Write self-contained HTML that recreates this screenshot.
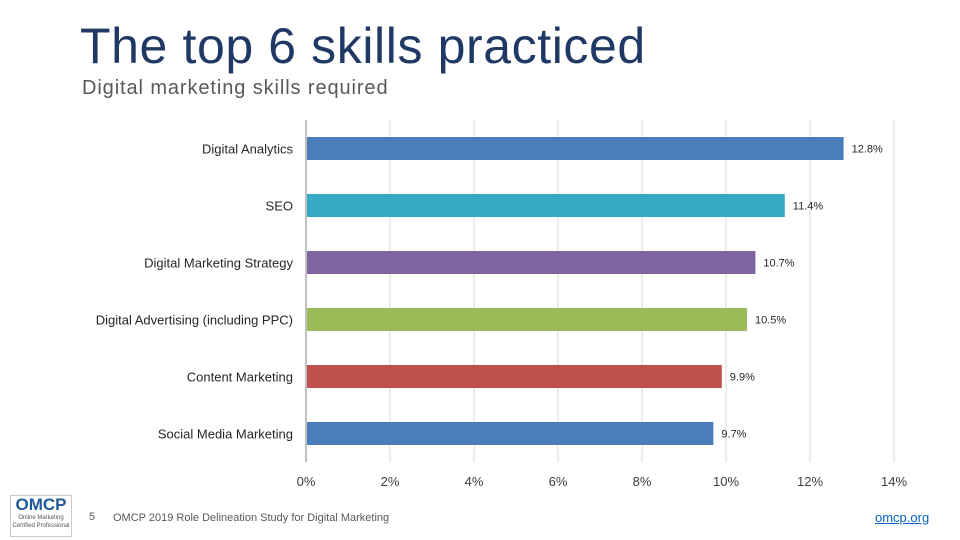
<!DOCTYPE html>
<html><head><meta charset="utf-8"><style>
body{margin:0;background:#fff;font-family:"Liberation Sans",sans-serif}
#wrap{position:relative;width:960px;height:540px;overflow:hidden}
</style></head><body>
<div id="wrap">
<div style="position:absolute;left:80px;top:17px;font-size:50px;color:#1f3864;letter-spacing:0.6px">The top 6 skills practiced</div>
<div style="position:absolute;left:82px;top:77px;font-size:20px;color:#595959;letter-spacing:0.9px">Digital  marketing skills required</div>
<svg id="chart" width="960" height="540" style="position:absolute;left:0;top:0"></svg>
<div style="position:absolute;left:10px;top:495px;width:60px;height:40px;border:1px solid #ccc;text-align:center">
<div style="font-size:17px;font-weight:bold;color:#1f5a96;line-height:18px">OMCP</div>
<div style="font-size:6px;color:#555;line-height:8px">Online Marketing<br>Certified Professional</div></div>
<div style="position:absolute;left:89px;top:511px;font-size:11px;color:#595959">5</div>
<div style="position:absolute;left:113px;top:512px;font-size:11px;color:#595959">OMCP 2019 Role Delineation Study for Digital Marketing</div>
<div style="position:absolute;left:875px;top:510px;font-size:13px;color:#0563c1;text-decoration:underline">omcp.org</div>
</div>
<script>
const categories=["Digital Analytics","SEO","Digital Marketing Strategy","Digital Advertising (including PPC)","Content Marketing","Social Media Marketing"];
const values=[12.8,11.4,10.7,10.5,9.9,9.7];
const colors=["#4a7eba","#36a9c3","#8064a2","#9bbb59","#c0504d","#4a7eba"];
const ticks=[0,2,4,6,8,10,12,14];
const NS="http://www.w3.org/2000/svg";
const svg=document.getElementById('chart');
const xs=v=>306+v*42;
const plotTop=120,plotBottom=462,band=(plotBottom-plotTop)/categories.length;
const ys=i=>plotTop+band*i+band/2;
function mk(t,a){const e=document.createElementNS(NS,t);for(const k in a)e.setAttribute(k,a[k]);svg.appendChild(e);return e;}
ticks.forEach(t=>{
 if(t>0){const g=mk('line',{x1:xs(t),x2:xs(t),y1:plotTop,y2:plotBottom,stroke:'#d9d9d9','stroke-width':1});
 
 }
 const l=mk('text',{x:xs(t),y:486,'text-anchor':'middle','font-size':13,fill:'#404040'});
 
 
 l.textContent=t+'%';
});
const ax=mk('line',{x1:xs(0),x2:xs(0),y1:plotTop,y2:plotBottom,stroke:'#808080','stroke-width':1});


categories.forEach((c,i)=>{
 const b=mk('rect',{x:xs(0)+1,y:ys(i)-11.5,width:xs(values[i])-xs(0)-1,height:23,fill:colors[i]});
 
 
 const t=mk('text',{x:293,y:ys(i)+5,'text-anchor':'end','font-size':13,fill:'#262626'});
 
 
 t.textContent=c;
 const v=mk('text',{x:xs(values[i])+8,y:ys(i)+4,'font-size':11,fill:'#262626'});
 
 
 v.textContent=values[i].toFixed(1)+'%';
});
</script>
</body></html>
